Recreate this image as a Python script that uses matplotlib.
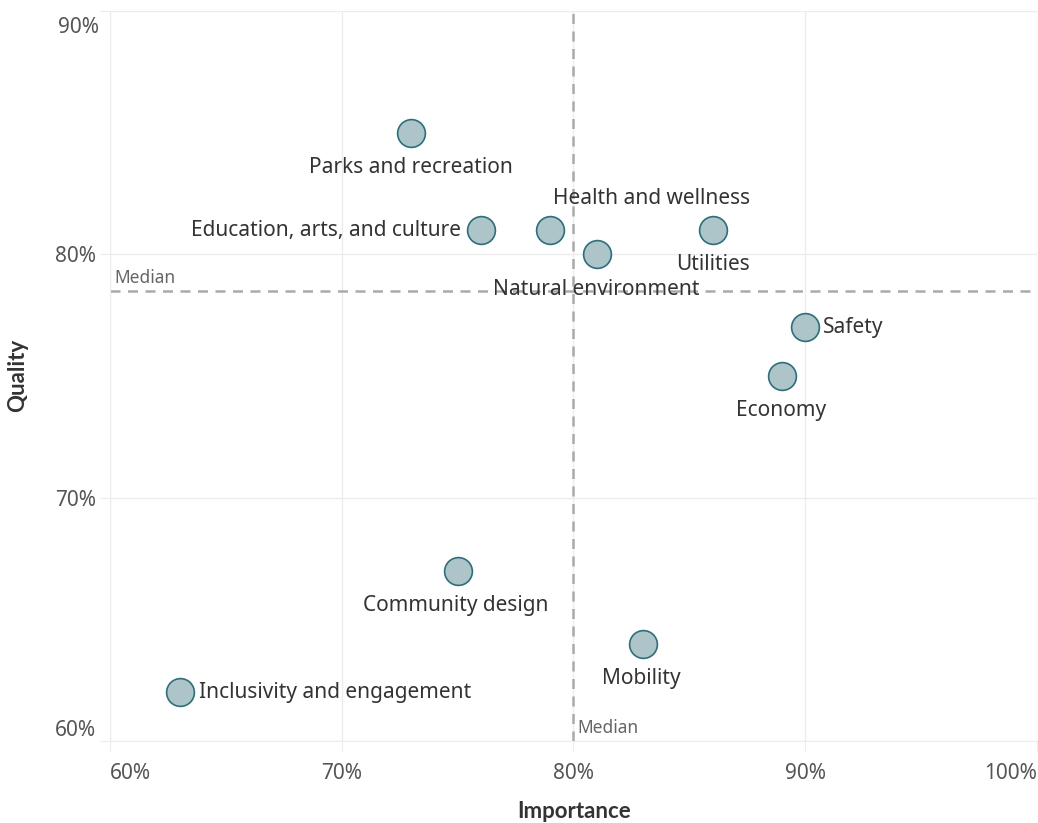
import matplotlib
matplotlib.use('Agg')
import matplotlib.pyplot as plt
from matplotlib.ticker import FuncFormatter

plt.rcParams['font.family'] = ['Noto Sans', 'DejaVu Sans']

# data (percent)
categories = ['Parks and recreation', 'Education, arts, and culture', 'Health and wellness',
              'Natural environment', 'Utilities', 'Safety', 'Economy',
              'Community design', 'Mobility', 'Inclusivity and engagement']
importance = [73, 76, 79, 81, 86, 90, 89, 75, 83, 63]
quality = [85, 81, 81, 80, 81, 77, 75, 67, 64, 62]
median_importance = 80
median_quality = 78.5

x_ticks = [60, 70, 80, 90, 100]
y_ticks = [60, 70, 80, 90]

# label placement: offset in points and alignment
label_pos = {
    'Parks and recreation': ((0, -25), 'center', 'center'),
    'Education, arts, and culture': ((-14, 0), 'right', 'center'),
    'Health and wellness': ((73, 23), 'center', 'center'),
    'Natural environment': ((0, -25), 'center', 'center'),
    'Utilities': ((0, -25), 'center', 'center'),
    'Safety': ((13, 0), 'left', 'center'),
    'Economy': ((-1, -25), 'center', 'center'),
    'Community design': ((-1, -25), 'center', 'center'),
    'Mobility': ((-1, -25), 'center', 'center'),
    'Inclusivity and engagement': ((14, 0), 'left', 'center'),
}

fig = plt.figure(figsize=(10.38, 8.23), dpi=100)
ax = fig.add_axes([0.106, 0.0996, 0.893, 0.887])

grid_col = '#ececec'
ax.set_xlim(60, 100)
ax.set_ylim(60, 90)
ax.set_xticks(x_ticks)
ax.set_yticks(y_ticks)
ax.xaxis.set_major_formatter(FuncFormatter(lambda v, p: '%d%%' % v))
# top y label is drawn separately so it can sit below the top edge
ax.yaxis.set_major_formatter(FuncFormatter(lambda v, p: '' if v == y_ticks[-1] else '%d%%' % v))
ax.grid(True, color=grid_col, linewidth=1)
ax.set_axisbelow(True)
for s in ['top', 'right']:
    ax.spines[s].set_visible(False)
for s in ['left', 'bottom']:
    ax.spines[s].set_color(grid_col)
ax.tick_params(axis='both', colors=grid_col, labelcolor='#555555', labelsize=15, length=7)
ax.tick_params(axis='x', pad=9)
ax.tick_params(axis='y', pad=3)
for lbl in ax.get_yticklabels():
    if lbl.get_text() == '60%':
        lbl.set_va('bottom')
for lbl in ax.get_xticklabels():
    if lbl.get_text() == '60%':
        lbl.set_ha('left')
    if lbl.get_text() == '100%':
        lbl.set_ha('right')
ax.annotate('%d%%' % y_ticks[-1], (ax.get_xlim()[0], y_ticks[-1]), xytext=(-8, -12),
            textcoords='offset points', ha='right', va='center', fontsize=15,
            color='#555555', annotation_clip=False)

# median lines
ax.axvline(median_importance, color='#aaaaaa', linestyle=(0, (4, 3)), linewidth=1.8, zorder=1)
ax.axhline(median_quality, color='#aaaaaa', linestyle=(0, (4, 3)), linewidth=1.8, zorder=1)
ax.annotate('Median', (60, median_quality), xytext=(3, 3), textcoords='offset points',
            fontsize=12.5, color='#666666', va='bottom', ha='left')
ax.annotate('Median', (median_importance, 60), xytext=(3, 3), textcoords='offset points',
            fontsize=12.5, color='#666666', va='bottom', ha='left')

ax.scatter(importance, quality, s=400, color='#adc5c9', edgecolor='#2f6e7c',
           linewidth=1.2, zorder=3, clip_on=False)

for name, xv, yv in zip(categories, importance, quality):
    off, ha, va = label_pos[name]
    ax.annotate(name, (xv, yv), xytext=off, textcoords='offset points',
                ha=ha, va=va, fontsize=15, color='#333333', zorder=4)

fig.text(574 / 1038, 1 - 811 / 823, 'Importance', fontsize=16, fontweight='bold',
         color='#333333', ha='center', va='center', family=['Lato', 'DejaVu Sans'])
fig.text(18 / 1038, 1 - 375 / 823, 'Quality', fontsize=16, fontweight='bold',
         color='#333333', ha='center', va='center', rotation=90, family=['Lato', 'DejaVu Sans'])

fig.savefig('out.png', dpi=100)
